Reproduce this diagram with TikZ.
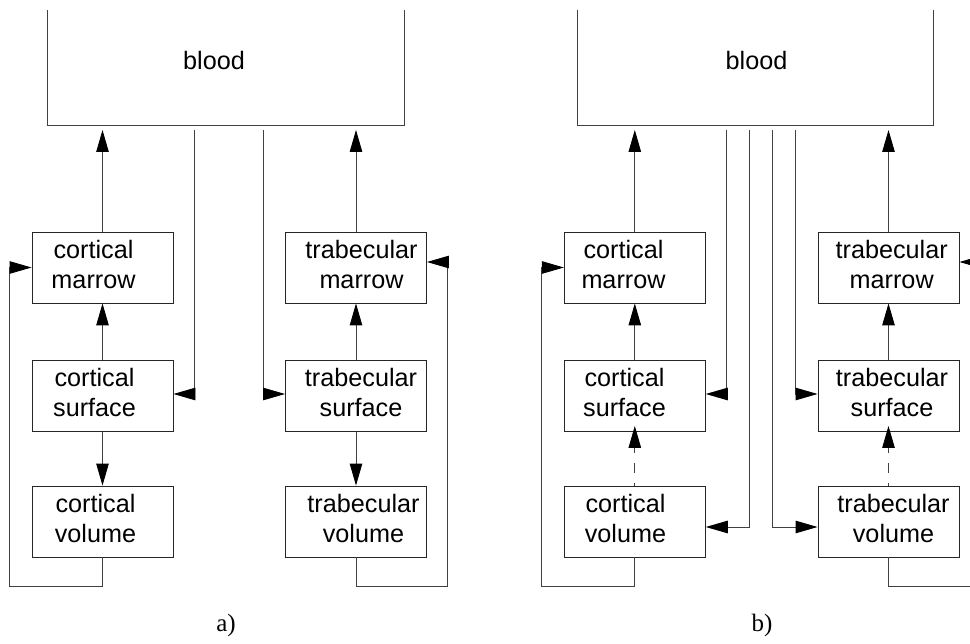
\documentclass[tikz,border=0pt]{standalone}
\usepackage{fontspec}
\setmainfont{Liberation Sans}
\newfontfamily\serifcap{Liberation Serif}
\usetikzlibrary{arrows.meta}
\tikzset{
 box/.style={draw=black!85, line width=0.9pt, minimum width=141pt, minimum height=71pt, inner sep=0pt},
 area/.style={minimum width=356pt, minimum height=115pt, inner sep=0pt},
 lbl/.style={inner sep=0pt, align=center, font=\fontsize{25.2}{30}\selectfont},
 plain/.style={draw=black!75, line width=0.9pt},
 arr/.style={plain, -{Triangle[length=22pt,width=12.5pt,color=black]}},
 dasharr/.style={arr, dash pattern=on 10pt off 10pt, dash phase=7pt},
 captxt/.style={inner sep=0pt, font=\serifcap\fontsize{25}{29}\selectfont}
}
\begin{document}
\begin{tikzpicture}[x=1pt,y=-1pt]
\clip (0,0) rectangle (970,644);
\fill[white] (0,0) rectangle (970,644);
% ---------------- panel a ----------------
\node[area] (bloodA) at (226,67.5) {};
\draw[plain] (bloodA.north west) -- (bloodA.south west) -- (bloodA.south east) -- (bloodA.north east);
\node[lbl] (bloodAt) at (214,60) {blood};
\node[box] (cmA) at (102.5,267.5) {};
\node[box] (csA) at (102.5,396) {};
\node[box] (cvA) at (102.5,521.5) {};
\node[box] (tmA) at (356,267.5) {};
\node[box] (tsA) at (356,396) {};
\node[box] (tvA) at (356,521.5) {};
\node[lbl] (cmAt) at (93.5,264) {cortical\\marrow};
\node[lbl] (csAt) at (94.5,392.5) {cortical\\surface};
\node[lbl] (cvAt) at (95.5,518) {cortical\\volume};
\node[lbl] (tmAt) at (361.5,264) {trabecular\\marrow};
\node[lbl] (tsAt) at (361,392.5) {trabecular\\surface};
\node[lbl] (tvAt) at (363.5,518) {trabecular\\volume};
\coordinate (topA) at (0,130);
\draw[arr] (cmA.north) -- (cmA.north |- topA);
\draw[arr] (tmA.north) -- (tmA.north |- topA);
\coordinate (vA1) at (194,130);
\coordinate (vA2) at (263,130);
\draw[arr] (vA1) |- ([yshift=2pt]csA.east);
\draw[arr] (vA2) |- ([yshift=2pt]tsA.west);
\draw[arr] (csA.north) -- (cmA.south);
\draw[arr] (csA.south) -- (cvA.north);
\draw[arr] (tsA.north) -- (tmA.south);
\draw[arr] (tsA.south) -- (tvA.north);
\coordinate (fbA1) at (9,586);
\coordinate (fbA2) at (447,586);
\draw[arr] (cvA.south) |- (fbA1) |- (cmA.west);
\draw[arr] (tvA.south) |- (fbA2) |- ([yshift=5.5pt]tmA.east);
\node[captxt] (capA) at (226,625) {a)};
% ---------------- panel b ----------------
\node[area] (bloodB) at (755.5,67.5) {};
\draw[plain] (bloodB.north west) -- (bloodB.south west) -- (bloodB.south east) -- (bloodB.north east);
\node[lbl] (bloodBt) at (756.5,60) {blood};
\node[box] (cmB) at (634.8,267.5) {};
\node[box] (csB) at (634.8,396) {};
\node[box] (cvB) at (634.8,521.5) {};
\node[box] (tmB) at (888.5,267.5) {};
\node[box] (tsB) at (888.5,396) {};
\node[box] (tvB) at (888.5,521.5) {};
\node[lbl] (cmBt) at (623.5,264) {cortical\\marrow};
\node[lbl] (csBt) at (624.5,392.5) {cortical\\surface};
\node[lbl] (cvBt) at (625.5,518) {cortical\\volume};
\node[lbl] (tmBt) at (891.7,264) {trabecular\\marrow};
\node[lbl] (tsBt) at (892,392.5) {trabecular\\surface};
\node[lbl] (tvBt) at (893.5,518) {trabecular\\volume};
\coordinate (topB) at (0,130);
\draw[arr] (cmB.north) -- (cmB.north |- topB);
\draw[arr] (tmB.north) -- (tmB.north |- topB);
\coordinate (vB1) at (726.3,130);
\coordinate (vB2) at (749.3,130);
\coordinate (vB3) at (772.7,130);
\coordinate (vB4) at (795.3,130);
\draw[arr] (vB1) |- ([yshift=2pt]csB.east);
\draw[arr] (vB2) |- ([yshift=-5.5pt]cvB.east);
\draw[arr] (vB3) |- ([yshift=-5.5pt]tvB.west);
\draw[arr] (vB4) |- ([yshift=2pt]tsB.west);
\draw[arr] (csB.north) -- (cmB.south);
\draw[arr] (tsB.north) -- (tmB.south);
\draw[dasharr] (cvB.north) -- ([yshift=6pt]csB.south);
\draw[dasharr] (tvB.north) -- ([yshift=6pt]tsB.south);
\coordinate (fbB1) at (541.7,586);
\coordinate (fbB2) at (980,586);
\draw[arr] (cvB.south) |- (fbB1) |- (cmB.west);
\draw[arr] (tvB.south) |- (fbB2) |- ([yshift=5.5pt]tmB.east);
\node[captxt] (capB) at (762,625) {b)};
\end{tikzpicture}
\end{document}
